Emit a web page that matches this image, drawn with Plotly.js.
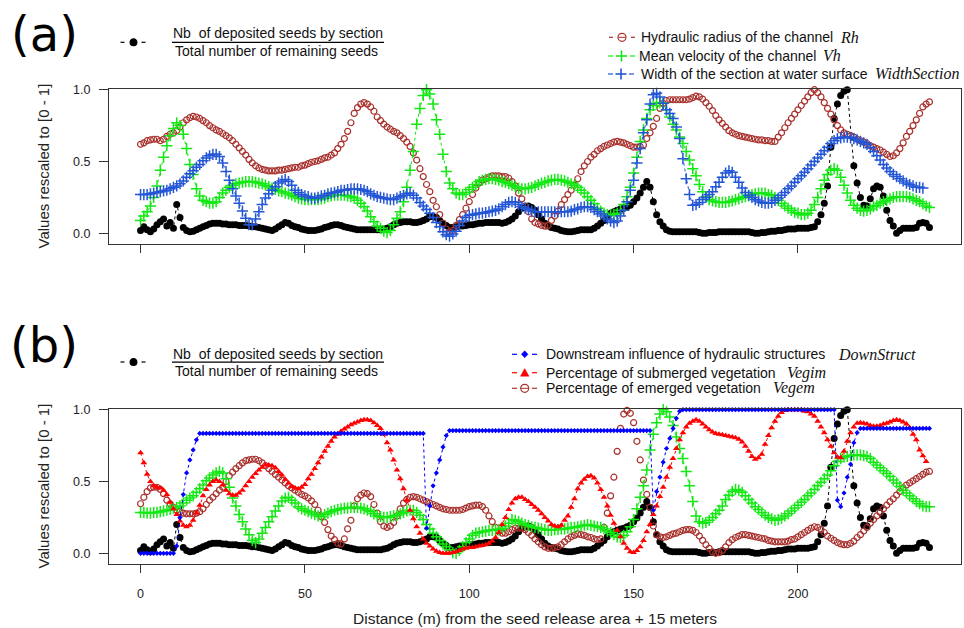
<!DOCTYPE html>
<html><head><meta charset="utf-8">
<script src="https://cdn.plot.ly/plotly-3.0.1.min.js"></script>
<style>html,body{margin:0;padding:0;background:#fff}#chart{width:964px;height:628px}</style>
</head><body><div id="chart"></div>
<script>
// Distance (m) from the seed release area + 15 m : one section per metre, 0..240
const distance = [];
for (let i = 0; i <= 240; i++) distance.push(i);

// Nb of deposited seeds by section / total number of remaining seeds (rescaled)
const seeds = [
0.02,0.045,0.025,0.01,0.03,0.06,0.08,0.10,0.05,0.075,
0.035,0.20,0.11,0.04,0.02,0.01,0.015,0.025,0.035,0.045,
0.055,0.065,0.07,0.07,0.07,0.065,0.065,0.06,0.06,0.06,
0.055,0.055,0.055,0.05,0.045,0.045,0.04,0.035,0.03,0.025,
0.02,0.03,0.045,0.06,0.075,0.07,0.055,0.045,0.04,0.03,
0.025,0.02,0.02,0.02,0.025,0.03,0.04,0.045,0.055,0.06,
0.06,0.055,0.045,0.04,0.035,0.03,0.025,0.025,0.025,0.025,
0.025,0.025,0.025,0.025,0.03,0.035,0.045,0.06,0.07,0.075,
0.08,0.08,0.08,0.075,0.075,0.08,0.09,0.10,0.115,0.115,
0.11,0.09,0.07,0.055,0.04,0.04,0.045,0.05,0.05,0.055,
0.06,0.06,0.065,0.07,0.07,0.075,0.075,0.075,0.075,0.075,
0.07,0.075,0.085,0.10,0.12,0.15,0.175,0.185,0.19,0.18,
0.16,0.13,0.10,0.07,0.05,0.04,0.035,0.03,0.02,0.015,
0.01,0.01,0.015,0.02,0.025,0.025,0.025,0.025,0.035,0.05,
0.07,0.09,0.115,0.14,0.15,0.16,0.17,0.175,0.185,0.195,
0.22,0.245,0.28,0.32,0.36,0.32,0.22,0.13,0.08,0.05,
0.025,0.015,0.01,0.01,0.01,0.01,0.01,0.01,0.01,0.01,
0.005,0,0,0.005,0.005,0.005,0.01,0.01,0.01,0.01,
0.01,0.01,0.01,0.01,0.01,0.01,0.005,0,0,0.005,
0.005,0.01,0.015,0.015,0.02,0.02,0.025,0.03,0.03,0.03,
0.035,0.035,0.035,0.035,0.04,0.045,0.08,0.13,0.21,0.33,
0.60,0.80,0.90,0.96,0.99,1.0,null,0.47,0.35,0.25,
0.195,0.19,0.24,0.31,0.33,0.32,0.26,0.16,0.09,0.05,
0,0.02,0.035,0.035,0.035,0.035,0.04,0.07,0.075,0.07,0.04];

// Panel (a)
const hydraulicRadius = [
0.62,0.63,0.645,0.65,0.655,0.655,0.645,0.655,0.675,0.69,
0.70,0.715,0.74,0.77,0.79,0.805,0.815,0.81,0.80,0.785,
0.77,0.75,0.735,0.72,0.71,0.695,0.68,0.665,0.645,0.62,
0.595,0.57,0.545,0.515,0.49,0.47,0.455,0.445,0.44,0.435,
0.435,0.435,0.44,0.44,0.445,0.45,0.455,0.46,0.46,0.47,
0.475,0.485,0.495,0.50,0.505,0.515,0.525,0.53,0.545,0.56,
0.59,0.62,0.66,0.71,0.77,0.835,0.875,0.90,0.91,0.90,
0.88,0.85,0.81,0.785,0.76,0.74,0.725,0.71,0.70,0.68,
0.66,0.635,0.605,0.56,0.51,0.45,0.395,0.34,0.29,0.23,
0.185,0.13,0.07,0.03,0.01,0.02,0.055,0.095,0.13,0.175,
0.22,0.27,0.315,0.35,0.37,0.38,0.39,0.40,0.40,0.40,
0.395,0.395,0.385,0.36,0.33,0.28,0.24,0.19,0.15,0.10,
0.075,0.065,0.055,0.05,0.055,0.09,0.12,0.155,0.20,0.235,
0.27,0.30,0.335,0.38,0.43,0.47,0.50,0.53,0.55,0.575,
0.59,0.605,0.615,0.625,0.635,0.64,0.635,0.63,0.62,0.61,
0.60,0.60,0.605,0.615,0.66,0.70,0.745,0.80,0.87,0.905,
0.925,0.93,0.93,0.93,0.93,0.93,0.93,0.935,0.945,0.955,
0.95,0.935,0.91,0.885,0.855,0.82,0.79,0.765,0.74,0.715,
0.70,0.69,0.68,0.675,0.67,0.665,0.66,0.655,0.65,0.65,
0.645,0.645,0.64,0.64,0.67,0.70,0.735,0.77,0.80,0.83,
0.86,0.89,0.92,0.95,0.98,1.0,0.98,0.95,0.91,0.87,
0.83,0.79,0.75,0.72,0.70,0.69,0.68,0.67,0.655,0.645,
0.635,0.625,0.61,0.60,0.59,0.58,0.565,0.55,0.535,0.54,
0.56,0.59,0.63,0.675,0.71,0.75,0.79,0.835,0.88,0.90,0.915];

const meanVelocity = [
0.09,0.12,0.15,0.19,0.25,0.33,0.44,0.53,0.61,0.68,
0.73,0.77,0.75,0.69,0.59,0.48,0.41,0.31,0.26,0.23,
0.22,0.21,0.21,0.22,0.25,0.28,0.30,0.32,0.335,0.345,
0.35,0.355,0.36,0.36,0.36,0.355,0.35,0.345,0.335,0.325,
0.315,0.305,0.295,0.29,0.28,0.275,0.265,0.255,0.245,0.24,
0.235,0.235,0.235,0.235,0.235,0.24,0.245,0.255,0.26,0.265,
0.265,0.265,0.265,0.26,0.255,0.245,0.23,0.21,0.185,0.155,
0.115,0.08,0.05,0.035,0.015,0.005,0.02,0.06,0.105,0.15,
0.22,0.32,0.44,0.57,0.76,0.87,0.96,1.0,0.97,0.90,
0.79,0.69,0.55,0.43,0.35,0.31,0.28,0.27,0.27,0.285,
0.305,0.32,0.34,0.36,0.37,0.375,0.38,0.38,0.375,0.37,
0.36,0.355,0.345,0.335,0.325,0.315,0.31,0.31,0.315,0.32,
0.33,0.34,0.35,0.355,0.365,0.37,0.375,0.375,0.37,0.365,
0.355,0.345,0.335,0.32,0.30,0.28,0.255,0.23,0.205,0.175,
0.155,0.14,0.13,0.13,0.13,0.14,0.16,0.20,0.255,0.32,
0.42,0.53,0.64,0.72,0.80,0.86,0.89,0.905,0.91,0.905,
0.86,0.81,0.76,0.72,0.67,0.625,0.57,0.51,0.45,0.40,
0.34,0.29,0.255,0.235,0.225,0.22,0.215,0.215,0.215,0.22,
0.225,0.235,0.24,0.25,0.255,0.26,0.27,0.275,0.28,0.28,
0.28,0.27,0.265,0.25,0.23,0.21,0.19,0.175,0.16,0.145,
0.14,0.13,0.13,0.14,0.16,0.20,0.25,0.31,0.37,0.41,
0.44,0.45,0.44,0.39,0.335,0.28,0.23,0.195,0.175,0.16,
0.155,0.16,0.17,0.185,0.195,0.21,0.22,0.23,0.24,0.25,
0.255,0.255,0.255,0.255,0.25,0.24,0.23,0.22,0.205,0.19,0.18];

const widthSection = [
0.27,0.27,0.27,0.275,0.28,0.285,0.29,0.295,0.30,0.31,
0.32,0.33,0.345,0.365,0.39,0.415,0.435,0.46,0.48,0.505,
0.525,0.54,0.55,0.55,0.535,0.49,0.43,0.37,0.31,0.26,
0.21,0.155,0.105,0.06,0.06,0.10,0.15,0.20,0.245,0.275,
0.30,0.325,0.35,0.365,0.375,0.36,0.335,0.30,0.285,0.27,
0.26,0.255,0.245,0.245,0.25,0.26,0.265,0.275,0.28,0.285,
0.29,0.30,0.30,0.305,0.31,0.31,0.31,0.305,0.30,0.29,
0.275,0.265,0.255,0.25,0.245,0.24,0.235,0.235,0.245,0.255,
0.265,0.275,0.28,0.265,0.245,0.215,0.19,0.165,0.14,0.11,
0.075,0.045,0.01,-0.01,-0.02,-0.005,0.015,0.055,0.085,0.11,
0.125,0.13,0.135,0.14,0.14,0.145,0.15,0.155,0.16,0.17,
0.185,0.20,0.215,0.22,0.215,0.20,0.185,0.175,0.165,0.155,
0.15,0.15,0.15,0.15,0.15,0.15,0.15,0.15,0.15,0.15,
0.15,0.155,0.165,0.17,0.18,0.185,0.185,0.18,0.165,0.15,
0.135,0.12,0.10,0.085,0.075,0.085,0.12,0.16,0.22,0.30,
0.37,0.49,0.59,0.70,0.79,0.90,0.965,0.975,0.95,0.905,
0.86,0.835,0.80,0.74,0.66,0.52,0.38,0.27,0.195,0.20,
0.215,0.235,0.25,0.27,0.29,0.325,0.355,0.39,0.42,0.435,
0.425,0.39,0.355,0.315,0.285,0.265,0.25,0.235,0.225,0.215,
0.21,0.21,0.215,0.23,0.245,0.265,0.285,0.31,0.33,0.355,
0.38,0.40,0.425,0.45,0.475,0.50,0.525,0.55,0.575,0.60,
0.625,0.645,0.66,0.665,0.67,0.67,0.665,0.66,0.65,0.64,
0.63,0.62,0.595,0.57,0.54,0.51,0.48,0.455,0.43,0.41,
0.395,0.38,0.365,0.35,0.34,0.33,0.32,0.32,0.315];

// Panel (b)
const downStruct = [
0,0,0,0,0,0,0,0,0,0,
0,0.05,0.25,0.41,0.56,0.65,0.72,0.79,0.835,0.835,
0.835,0.835,0.835,0.835,0.835,0.835,0.835,0.835,0.835,0.835,
0.835,0.835,0.835,0.835,0.835,0.835,0.835,0.835,0.835,0.835,
0.835,0.835,0.835,0.835,0.835,0.835,0.835,0.835,0.835,0.835,
0.835,0.835,0.835,0.835,0.835,0.835,0.835,0.835,0.835,0.835,
0.835,0.835,0.835,0.835,0.835,0.835,0.835,0.835,0.835,0.835,
0.835,0.835,0.835,0.835,0.835,0.835,0.835,0.835,0.835,0.835,
0.835,0.835,0.835,0.835,0.835,0.835,0.835,0.175,0.33,0.47,
0.56,0.65,0.74,0.82,0.855,0.855,0.855,0.855,0.855,0.855,
0.855,0.855,0.855,0.855,0.855,0.855,0.855,0.855,0.855,0.855,
0.855,0.855,0.855,0.855,0.855,0.855,0.855,0.855,0.855,0.855,
0.855,0.855,0.855,0.855,0.855,0.855,0.855,0.855,0.855,0.855,
0.855,0.855,0.855,0.855,0.855,0.855,0.855,0.855,0.855,0.855,
0.855,0.855,0.855,0.855,0.855,0.855,0.855,0.855,0.855,0.855,
0.855,0.855,0.855,0.855,0.855,0.855,0.30,0.43,0.53,0.635,
0.73,0.80,0.87,0.94,0.99,1.0,1.0,1.0,1.0,1.0,
1.0,1.0,1.0,1.0,1.0,1.0,1.0,1.0,1.0,1.0,
1.0,1.0,1.0,1.0,1.0,1.0,1.0,1.0,1.0,1.0,
1.0,1.0,1.0,1.0,1.0,1.0,1.0,1.0,1.0,1.0,
1.0,1.0,1.0,1.0,1.0,1.0,1.0,1.0,1.0,1.0,
1.0,1.0,0.37,0.325,0.42,0.53,0.62,0.77,0.84,0.87,
0.87,0.87,0.87,0.87,0.87,0.87,0.87,0.87,0.87,0.87,
0.87,0.87,0.87,0.87,0.87,0.87,0.87,0.87,0.87,0.87,0.87];

const vegim = [
0.70,0.63,0.55,0.50,0.47,0.46,0.455,0.44,0.41,0.355,
0.31,0.27,0.225,0.195,0.185,0.195,0.23,0.28,0.335,0.40,
0.445,0.475,0.50,0.51,0.50,0.475,0.44,0.415,0.405,0.405,
0.42,0.44,0.47,0.50,0.53,0.555,0.58,0.60,0.615,0.615,
0.61,0.595,0.57,0.545,0.515,0.49,0.465,0.455,0.45,0.46,
0.48,0.52,0.55,0.59,0.63,0.67,0.71,0.745,0.78,0.81,
0.83,0.85,0.865,0.88,0.895,0.905,0.915,0.925,0.93,0.93,
0.925,0.91,0.89,0.87,0.83,0.77,0.72,0.65,0.58,0.52,
0.45,0.37,0.30,0.24,0.185,0.14,0.10,0.07,0.05,0.03,
0.015,0.005,0,0,0,0.005,0.01,0.02,0.03,0.035,
0.04,0.04,0.045,0.05,0.055,0.06,0.07,0.085,0.11,0.145,
0.20,0.25,0.305,0.35,0.38,0.39,0.39,0.375,0.36,0.34,
0.32,0.30,0.275,0.25,0.225,0.20,0.19,0.185,0.195,0.23,
0.26,0.32,0.38,0.45,0.49,0.515,0.535,0.54,0.525,0.49,
0.445,0.39,0.33,0.265,0.21,0.16,0.115,0.07,0.035,0.01,
0.005,0.02,0.045,0.09,0.15,0.20,0.27,0.33,0.395,0.46,
0.53,0.60,0.66,0.73,0.79,0.84,0.88,0.905,0.92,0.93,
0.92,0.90,0.88,0.86,0.845,0.835,0.83,0.825,0.82,0.815,
0.81,0.805,0.795,0.775,0.745,0.71,0.675,0.655,0.665,0.69,
0.76,0.82,0.875,0.92,0.955,0.98,0.995,1.0,1.0,1.0,
1.0,1.0,0.99,0.985,0.97,0.955,0.92,0.88,0.84,0.79,
0.745,0.70,0.67,0.665,0.71,0.78,0.84,0.88,0.905,0.91,
0.905,0.90,0.89,0.885,0.885,0.89,0.90,0.905,0.915,0.925,
0.93,0.925,0.915,0.90,0.875,0.83,0.79,0.72,0.68,0.64];

const vegem = [
0.345,0.39,0.43,0.455,0.46,0.46,0.445,0.415,0.37,0.345,
0.32,0.30,0.29,0.28,0.275,0.275,0.275,0.28,0.29,0.31,
0.34,0.37,0.39,0.415,0.44,0.46,0.50,0.54,0.565,0.59,
0.61,0.63,0.645,0.65,0.655,0.655,0.645,0.63,0.61,0.59,
0.57,0.55,0.53,0.51,0.49,0.47,0.455,0.44,0.425,0.41,
0.40,0.385,0.365,0.34,0.30,0.255,0.215,0.165,0.12,0.095,
0.07,0.065,0.10,0.17,0.23,0.33,0.38,0.405,0.42,0.415,
0.395,0.34,0.28,0.22,0.19,0.18,0.19,0.215,0.26,0.31,
0.35,0.375,0.39,0.395,0.39,0.38,0.37,0.36,0.35,0.34,
0.33,0.32,0.31,0.305,0.30,0.30,0.30,0.30,0.305,0.315,
0.325,0.33,0.335,0.335,0.325,0.30,0.26,0.22,0.18,0.15,
0.14,0.14,0.15,0.165,0.175,0.175,0.175,0.165,0.145,0.125,
0.10,0.08,0.06,0.045,0.035,0.035,0.04,0.045,0.06,0.08,
0.10,0.115,0.125,0.135,0.13,0.125,0.115,0.11,0.10,0.095,
0.10,0.18,0.28,0.40,0.53,0.71,0.87,0.97,0.995,0.975,
0.91,0.78,0.65,0.51,0.41,0.32,0.19,0.13,0.115,0.11,
0.115,0.125,0.135,0.14,0.15,0.16,0.165,0.165,0.16,0.145,
0.12,0.09,0.06,0.035,0.01,0,0.005,0.02,0.045,0.075,
0.095,0.11,0.12,0.13,0.13,0.125,0.12,0.115,0.11,0.105,
0.10,0.09,0.085,0.08,0.08,0.08,0.08,0.085,0.095,0.10,
0.115,0.13,0.145,0.16,0.175,0.185,0.18,0.165,0.145,0.12,
0.105,0.09,0.075,0.065,0.06,0.06,0.07,0.085,0.11,0.13,
0.155,0.18,0.21,0.235,0.26,0.285,0.31,0.335,0.36,0.38,
0.405,0.43,0.455,0.475,0.49,0.505,0.52,0.535,0.55,0.565,0.57];

// green "+" series of panel (b) (not named in the legend)
const greenB = [
0.285,0.285,0.28,0.28,0.285,0.285,0.29,0.295,0.30,0.305,
0.315,0.32,0.33,0.35,0.37,0.385,0.40,0.425,0.45,0.475,
0.505,0.525,0.545,0.56,0.57,0.56,0.52,0.46,0.385,0.33,
0.27,0.22,0.17,0.13,0.09,0.075,0.10,0.14,0.18,0.22,
0.255,0.295,0.33,0.365,0.385,0.39,0.37,0.35,0.325,0.31,
0.30,0.29,0.28,0.27,0.26,0.255,0.27,0.28,0.29,0.30,
0.305,0.31,0.315,0.315,0.32,0.32,0.32,0.315,0.31,0.30,
0.29,0.275,0.26,0.255,0.25,0.25,0.255,0.26,0.265,0.275,
0.285,0.295,0.30,0.30,0.285,0.265,0.235,0.20,0.17,0.14,
0.115,0.09,0.065,0.045,0.025,0.005,0,0.02,0.045,0.075,
0.10,0.125,0.14,0.145,0.15,0.155,0.16,0.16,0.165,0.165,
0.175,0.19,0.21,0.235,0.23,0.22,0.21,0.20,0.195,0.185,
0.18,0.175,0.17,0.165,0.16,0.16,0.165,0.165,0.17,0.17,
0.175,0.18,0.18,0.185,0.19,0.195,0.20,0.195,0.19,0.185,
0.18,0.17,0.155,0.145,0.13,0.115,0.11,0.125,0.15,0.185,
0.235,0.31,0.39,0.47,0.58,0.72,0.83,0.91,0.97,1.0,
0.985,0.95,0.89,0.81,0.73,0.66,0.57,0.47,0.36,0.26,
0.22,0.21,0.215,0.23,0.25,0.275,0.30,0.33,0.375,0.405,
0.43,0.445,0.44,0.425,0.40,0.375,0.35,0.325,0.305,0.285,
0.265,0.25,0.24,0.23,0.235,0.245,0.26,0.275,0.295,0.315,
0.335,0.355,0.375,0.40,0.42,0.445,0.47,0.495,0.52,0.545,
0.575,0.61,0.64,0.66,0.67,0.675,0.68,0.685,0.685,0.685,
0.68,0.675,0.66,0.635,0.615,0.595,0.575,0.555,0.535,0.51,
0.49,0.465,0.44,0.42,0.40,0.38,0.36,0.345,0.33,0.325,0.325];

const xTicks = [0, 50, 100, 150, 200];
const yTicks = [0, 0.5, 1];
const yTickText = ['0.0', '0.5', '1.0'];

// ---------- styling / layout ----------
const W = 964, H = 628;
const fx = p => p / W;
const fy = p => 1 - p / H;

const BROWN = '#A8302C', GREEN = '#13E813', BLUEW = '#2356D6', BLUE = '#0000FF', RED = '#FF0000';
const DASH = '3px,3px';

function series(y, axis, name, marker, withLine, lineColor) {
  return {
    type: 'scatter', x: distance.slice(0, y.length), y: y,
    xaxis: axis[0], yaxis: axis[1], name: name,
    mode: withLine ? 'lines+markers' : 'markers',
    connectgaps: true, cliponaxis: false, showlegend: false,
    marker: marker,
    line: {color: lineColor || marker.color, width: 1, dash: DASH}
  };
}
const A = ['x', 'y'], B = ['x2', 'y2'];
const mBlack = {symbol: 'circle', size: 7, color: '#000'};
const mCircle = c => ({symbol: 'circle-open', size: 6, color: c, line: {color: c, width: 1.2}});
const mPlus = c => ({symbol: 'cross-thin-open', size: 8, color: c, line: {color: c, width: 1.5}});

const traces = [
  series(seeds, A, 'seeds', mBlack, true),
  series(hydraulicRadius, A, 'Rh', mCircle(BROWN), false),
  series(meanVelocity, A, 'Vh', mPlus(GREEN), true),
  series(widthSection, A, 'WidthSection', mPlus(BLUEW), true),
  series(seeds, B, 'seeds', mBlack, true),
  series(vegem, B, 'Vegem', mCircle(BROWN), false),
  series(greenB, B, 'green', mPlus(GREEN), true),
  series(vegim, B, 'Vegim', {symbol: 'triangle-up', size: 6, color: RED}, true),
  series(downStruct, B, 'DownStruct', {symbol: 'diamond', size: 4, color: BLUE}, true)
];

const xDom = [fx(109), fx(961)];
const xRange = [-9.6, 249.6];
const yRange = [-0.0745, 1.005];
const AX = '#333';
const tickFont = {family: 'Liberation Sans, Arial, sans-serif', size: 12.5, color: '#222'};

function xAxis(anchor, labels) {
  return {domain: xDom, range: xRange, anchor: anchor, showgrid: false, zeroline: false,
    showline: true, mirror: true, linecolor: AX, linewidth: 1,
    ticks: 'outside', ticklen: 8, tickcolor: AX, tickwidth: 1,
    tickmode: 'array', tickvals: xTicks, ticktext: xTicks.map(String),
    showticklabels: labels, tickfont: tickFont, ticklabelstandoff: 10};
}
function yAxis(anchor, dom) {
  return {domain: dom, range: yRange, anchor: anchor, showgrid: false, zeroline: false,
    showline: true, mirror: true, linecolor: AX, linewidth: 1,
    ticks: 'outside', ticklen: 9, tickcolor: AX, tickwidth: 1,
    tickmode: 'array', tickvals: yTicks, ticktext: yTickText,
    tickfont: tickFont, ticklabelstandoff: 6};
}

const SANS = 'Liberation Sans, Arial, sans-serif';
const SERIF = 'Liberation Serif, Times New Roman, serif';
const LS = 14;   // legend text size
function ann(text, x, y, size, opts) {
  return Object.assign({text: text, x: fx(x), y: fy(y), xref: 'paper', yref: 'paper',
    xanchor: 'left', yanchor: 'middle', showarrow: false,
    font: {family: SANS, size: size, color: '#111'}}, opts || {});
}
const ital = {family: SERIF, size: 16, color: '#111'};
const annotations = [
  ann('(a)', 44, 34, 48, {xanchor: 'center', font: {family: 'DejaVu Sans, sans-serif', size: 48, color: '#000'}}),
  ann('(b)', 44, 345, 48, {xanchor: 'center', font: {family: 'DejaVu Sans, sans-serif', size: 48, color: '#000'}}),
  ann('Values rescaled to [0 - 1]', 43, 166.5, 15, {xanchor: 'center', textangle: -90, font: {family: SANS, size: 15, color: '#222'}}),
  ann('Values rescaled to [0 - 1]', 43, 486.5, 15, {xanchor: 'center', textangle: -90, font: {family: SANS, size: 15, color: '#222'}}),
  ann('Distance (m) from the seed release area + 15 meters', 535, 618, 15.5, {xanchor: 'center', font: {family: SANS, size: 15.5, color: '#222'}}),
  // panel (a) legend
  ann('Nb\u00a0 of deposited seeds by section', 171, 33.3, LS),
  ann('Total number of remaining seeds', 173, 51, LS),
  ann('Hydraulic radius of the channel', 639, 37.3, LS),
  ann('<i>Rh</i>', 838, 37.3, 16, {font: ital}),
  ann('Mean velocity of the channel', 637, 56, LS),
  ann('<i>Vh</i>', 821, 56, 16, {font: ital}),
  ann('Width of the section at water surface', 639, 74, LS),
  ann('<i>WidthSection</i>', 873, 74, 16, {font: ital}),
  // panel (b) legend
  ann('Nb\u00a0 of deposited seeds by section', 171, 354, LS),
  ann('Total number of remaining seeds', 173, 371, LS),
  ann('Downstream influence of hydraulic structures', 544, 354.3, LS),
  ann('<i>DownStruct</i>', 836, 354.3, 16, {font: ital}),
  ann('Percentage of submerged vegetation', 544, 372.7, LS),
  ann('<i>Vegim</i>', 785, 372.7, 16, {font: ital}),
  ann('Percentage of emerged vegetation', 544, 388.3, LS),
  ann('<i>Vegem</i>', 771, 388.3, 16, {font: ital})
];

// legend glyphs drawn as shapes (pixel positions converted to paper coordinates)
const shapes = [];
function seg(x0, x1, y0, y1, c, w) {
  shapes.push({type: 'line', xref: 'paper', yref: 'paper', x0: fx(x0), x1: fx(x1), y0: fy(y0), y1: fy(y1),
    line: {color: c, width: w || 1.2}});
}
function dot(cx, cy, r, c, filled) {
  shapes.push({type: 'circle', xref: 'paper', yref: 'paper', x0: fx(cx - r), x1: fx(cx + r), y0: fy(cy + r), y1: fy(cy - r),
    line: {color: c, width: 1.2}, fillcolor: filled ? c : 'rgba(0,0,0,0)'});
}
function poly(pts, c) {
  const d = 'M ' + pts.map(p => fx(p[0]) + ',' + fy(p[1])).join(' L ') + ' Z';
  shapes.push({type: 'path', xref: 'paper', yref: 'paper', path: d, fillcolor: c, line: {color: c, width: 0.5}});
}
function dashes(xa, xb, xc, xd, y, c) { seg(xa, xb, y, y, c); seg(xc, xd, y, y, c); }
// black seed glyph + fraction bar
[[42.3, 42.3], [362, 362.2]].forEach(([gy, ry]) => {
  dashes(120.5, 124.5, 141.5, 145.5, gy, '#000');
  dot(133.5, gy, 3.4, '#000', true);
  seg(172, 384, ry, ry, '#000', 1.2);
});
// Rh
dashes(609, 613, 631, 635, 37.3, BROWN); dot(622, 37.3, 4, BROWN, false); seg(618.5, 625.5, 37.3, 37.3, BROWN, 1);
// Vh
dashes(608, 613, 630, 635, 56, GREEN); seg(616, 627, 56, 56, GREEN, 1.6); seg(621.5, 621.5, 50.5, 61.5, GREEN, 1.6);
// Width
dashes(608, 613, 629, 634, 74, BLUEW); seg(615.5, 626.5, 74, 74, BLUEW, 1.6); seg(621, 621, 68.5, 79.5, BLUEW, 1.6);
// DownStruct
dashes(512, 517, 532, 537, 354.3, BLUE); poly([[524.7, 350.8], [528, 354.3], [524.7, 357.8], [521.4, 354.3]], BLUE);
// Vegim
dashes(512, 517, 532, 537, 372.7, RED); poly([[520.5, 376.2], [529, 376.2], [524.7, 368.6]], RED);
// Vegem
dashes(512, 517, 532, 537, 388.3, BROWN); dot(524.7, 388.3, 4, BROWN, false); seg(521, 528.4, 388.3, 388.3, BROWN, 1);

const layout = {
  width: W, height: H, margin: {l: 0, r: 0, t: 0, b: 0},
  paper_bgcolor: '#fff', plot_bgcolor: '#fff', showlegend: false,
  xaxis: xAxis('y', false),
  yaxis: yAxis('x', [fy(244), fy(89)]),
  xaxis2: xAxis('y2', true),
  yaxis2: yAxis('x2', [fy(564), fy(409)]),
  annotations: annotations, shapes: shapes
};
Plotly.newPlot('chart', traces, layout, {displayModeBar: false, staticPlot: true});
</script>
</body></html>
